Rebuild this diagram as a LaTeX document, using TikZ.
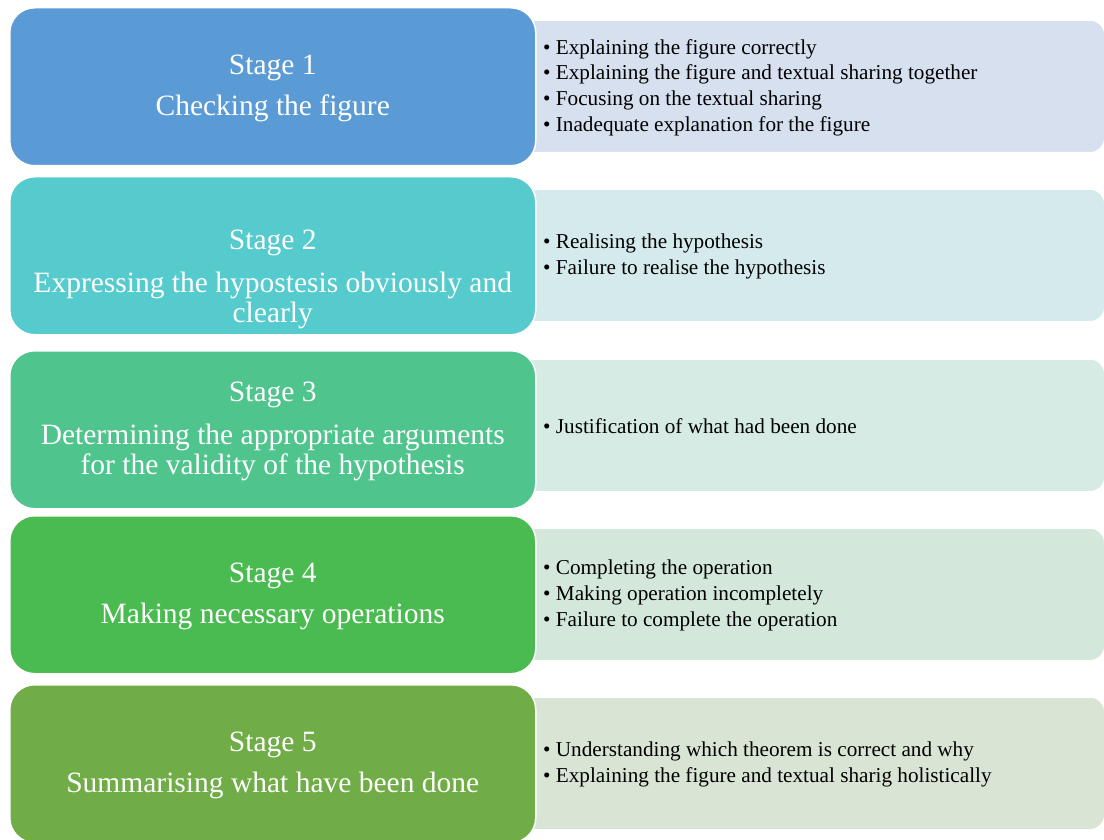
\documentclass[tikz,border=0pt]{standalone}
\usepackage{fontspec}
\setmainfont{Liberation Serif}
\definecolor{stageA}{HTML}{5B9BD5}
\definecolor{stageB}{HTML}{55CBCD}
\definecolor{stageC}{HTML}{4FC48D}
\definecolor{stageD}{HTML}{4ABB50}
\definecolor{stageE}{HTML}{70AD47}
\definecolor{tintA}{HTML}{D6E0EF}
\definecolor{tintB}{HTML}{D5EAED}
\definecolor{tintC}{HTML}{D5EBE3}
\definecolor{tintD}{HTML}{D3E8DA}
\definecolor{tintE}{HTML}{D9E5D4}
\begin{document}
\begin{tikzpicture}[x=1pt, y=-1pt,
  stage/.style={rectangle, rounded corners=25pt, draw=white, line width=1.5pt,
    minimum width=526pt, minimum height=158pt, anchor=north west},
  detail/.style={rectangle, rounded corners=14pt, draw=white, line width=0.8pt,
    minimum width=604pt, minimum height=132pt, anchor=north west},
  stagetxt/.style={text=white, align=center, inner sep=0pt,
    font=\fontsize{29.5}{30}\selectfont},
  detailtxt/.style={anchor=west, align=left, inner sep=0pt,
    font=\fontsize{21.2}{25.7}\selectfont}]
\useasboundingbox (0,0) rectangle (1104,840);

% right hand boxes, partly hidden under the stages
\node[detail, fill=tintA] (d1) at (500,20) {};
\node[detail, fill=tintB] (d2) at (500,189) {};
\node[detail, fill=tintC] (d3) at (500,359) {};
\node[detail, fill=tintD] (d4) at (500,528) {};
\node[detail, fill=tintE] (d5) at (500,697) {};

% stages
\node[stage, fill=stageA] (s1) at (9,7) {};
\node[stage, fill=stageB] (s2) at (9,176) {};
\node[stage, fill=stageC] (s3) at (9,350) {};
\node[stage, fill=stageD] (s4) at (9,515) {};
\node[stage, fill=stageE] (s5) at (9,684) {};

\node[stagetxt] (t1) at ([yshift=-2pt]s1.center) {Stage 1\\[11pt]Checking the figure};
\node[stagetxt] (t2) at ([yshift=-24pt]s2.center) {Stage 2\\[13pt]Expressing the hypostesis obviously and\\clearly};
\node[stagetxt] (t3) at ([yshift=-2pt]s3.center) {Stage 3\\[13pt]Determining the appropriate arguments\\for the validity of the hypothesis};
\node[stagetxt] (t4) at ([yshift=-2pt]s4.center) {Stage 4\\[11pt]Making necessary operations};
\node[stagetxt] (t5) at ([yshift=-2pt]s5.center) {Stage 5\\[11pt]Summarising what have been done};

% bullet lists
\node[detailtxt] (l1) at ([xshift=43pt,yshift=-1pt]d1.west) {\textbullet\ Explaining the figure correctly\\
  \textbullet\ Explaining the figure and textual sharing together\\
  \textbullet\ Focusing on the textual sharing\\
  \textbullet\ Inadequate explanation for the figure};
\node[detailtxt] (l2) at ([xshift=43pt,yshift=-1pt]d2.west) {\textbullet\ Realising the hypothesis\\
  \textbullet\ Failure to realise the hypothesis};
\node[detailtxt] (l3) at ([xshift=43pt,yshift=-1pt]d3.west) {\textbullet\ Justification of what had been done};
\node[detailtxt] (l4) at ([xshift=43pt,yshift=-1pt]d4.west) {\textbullet\ Completing the operation\\
  \textbullet\ Making operation incompletely\\
  \textbullet\ Failure to complete the operation};
\node[detailtxt] (l5) at ([xshift=43pt,yshift=-1pt]d5.west) {\textbullet\ Understanding which theorem is correct and why\\
  \textbullet\ Explaining the figure and textual sharig holistically};
\end{tikzpicture}
\end{document}
